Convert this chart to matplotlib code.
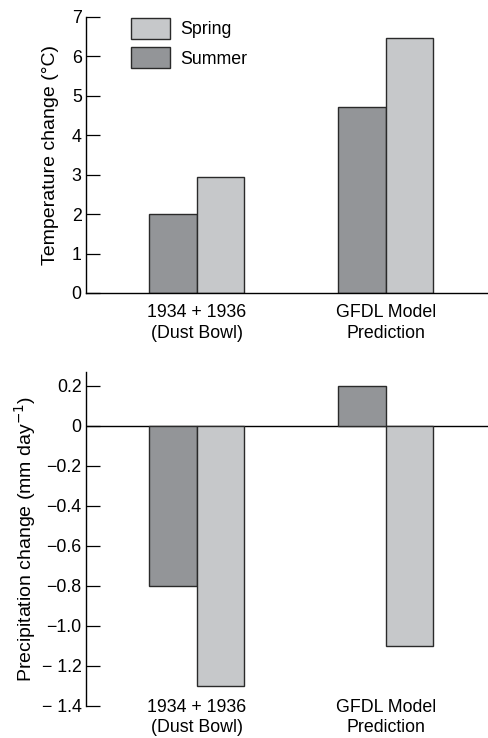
import numpy as np
import matplotlib.pyplot as plt
from matplotlib.patches import Patch

plt.rcParams['font.family'] = ['Liberation Sans', 'DejaVu Sans']
plt.rcParams['axes.unicode_minus'] = True

groups = ['1934 + 1936\n(Dust Bowl)', 'GFDL Model\nPrediction']
temp_summer = [2.0, 4.72]
temp_spring = [2.95, 6.47]
precip_summer = [-0.8, 0.2]
precip_spring = [-1.3, -1.1]

temp_ticks = [0, 1, 2, 3, 4, 5, 6, 7]
precip_ticks = [0.2, 0, -0.2, -0.4, -0.6, -0.8, -1.0, -1.2, -1.4]
precip_labels = ['0.2', '0', '\u22120.2', '\u22120.4', '\u22120.6', '\u22120.8',
                 '\u22121.0', '\u2212 1.2', '\u2212 1.4']

summer_col = '#939598'
spring_col = '#c6c8ca'
edge = '#2a2a2a'
fs = 12.8
lfs = 14
w = 0.251

fig = plt.figure(figsize=(4.88, 7.38), dpi=100)
ax1 = fig.add_axes([0.176, 0.603, 0.824, 0.374])
ax2 = fig.add_axes([0.176, 0.0434, 0.824, 0.4526])

x = np.arange(len(groups))

def style(ax, ls):
    for s in ['top', 'right']:
        ax.spines[s].set_visible(False)
    ax.spines['left'].set_linewidth(1.0)
    ax.tick_params(axis='y', direction='in', length=10, width=0.9,
                   labelsize=fs, pad=3)
    ax.set_xlim(-0.587, 1.54)
    ax.set_xticks(x)
    ax.set_xticklabels(groups, fontsize=fs, linespacing=ls)

# temperature
ax1.bar(x - w / 2, temp_summer, w, color=summer_col, edgecolor=edge, linewidth=1.0)
ax1.bar(x + w / 2, temp_spring, w, color=spring_col, edgecolor=edge, linewidth=1.0)
style(ax1, 1.3)
ax1.set_ylim(0, 7)
ax1.set_yticks(temp_ticks)
ax1.spines['bottom'].set_linewidth(1.0)
ax1.tick_params(axis='x', length=0, pad=8)
ax1.set_ylabel('Temperature change (\u00b0C)', fontsize=lfs, labelpad=9)

handles = [Patch(facecolor=spring_col, edgecolor=edge, linewidth=1.0, label='Spring'),
           Patch(facecolor=summer_col, edgecolor=edge, linewidth=1.0, label='Summer')]
ax1.legend(handles=handles, loc='upper left', bbox_to_anchor=(0.085, 1.035),
           frameon=False, fontsize=fs, handlelength=2.2, handleheight=1.45,
           labelspacing=0.45, handletextpad=0.6, borderaxespad=0.2)

# precipitation
ax2.bar(x - w / 2, precip_summer, w, color=summer_col, edgecolor=edge, linewidth=1.0)
ax2.bar(x + w / 2, precip_spring, w, color=spring_col, edgecolor=edge, linewidth=1.0)
style(ax2, 1.2)
ax2.set_ylim(-1.4, 0.27)
ax2.set_yticks(precip_ticks)
ax2.set_yticklabels(precip_labels)
ax2.spines['bottom'].set_visible(False)
ax2.axhline(0, color='black', linewidth=1.0, zorder=0.5)
ax2.tick_params(axis='x', length=0, pad=-5)
ax2.set_ylabel('Precipitation change (mm day$^{-1}$)', fontsize=lfs, labelpad=3)

fig.savefig('out.png', dpi=100)
